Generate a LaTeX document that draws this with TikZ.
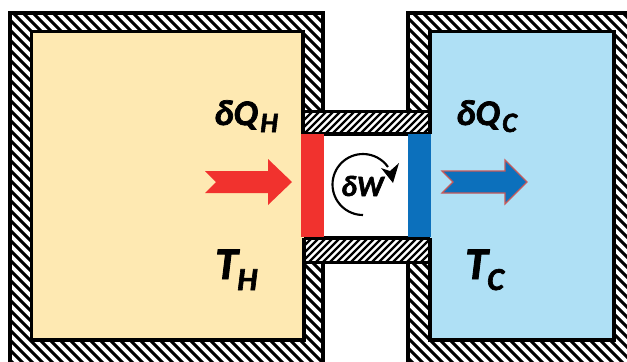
\documentclass[tikz,border=0pt]{standalone}
\usepackage{fontspec}
\setmainfont{Carlito}
\newfontface\heavy{Carlito Bold Italic}[FakeBold=2]
\definecolor{warm}{RGB}{254,233,178}
\definecolor{cool}{RGB}{175,224,245}
\definecolor{hotred}{RGB}{241,50,46}
\definecolor{coldblue}{RGB}{12,112,188}
\definecolor{rim}{RGB}{200,90,90}
\tikzset{x=0.75pt,y=-0.75pt,
  wallline/.style={line width=2.6pt,black},
  stripe/.style={line width=2.3pt,black},
  finestripe/.style={line width=1.7pt,black},
  label/.style={inner sep=0pt,anchor=base west}}
\newcommand{\hatchSE}{\foreach \k in {-400,-390,...,700}{\draw[stripe] (\k,0)--(\k+380,380);}}
\newcommand{\hatchNE}{\foreach \k in {200,207,...,800}{\draw[finestripe] (\k,0)--(\k-380,380);}}
\begin{document}
\begin{tikzpicture}
\useasboundingbox (0,0) rectangle (627,361);
\clip (0,0) rectangle (627,361);
\fill[white] (0,0) rectangle (627,361);
% left wall hatch
\begin{scope}
\clip (10,13) rectangle (323,380);
\hatchSE
\end{scope}
% right wall hatch
\begin{scope}
\clip (408,13) rectangle (640,380);
\hatchSE
\end{scope}
% chambers
\fill[warm] (31,31) rectangle (304,340);
\fill[cool] (430,31) rectangle (614,340);
\fill[white] (304,111) rectangle (430,263);
% channel hatch
\begin{scope}
\clip (304,112) rectangle (430,133);
\hatchNE
\end{scope}
\begin{scope}
\clip (304,239) rectangle (430,262);
\hatchNE
\end{scope}
% outlines
\draw[wallline] (10,380)--(10,13)--(323,13)--(323,112);
\draw[wallline] (323,262)--(323,380);
\draw[wallline] (408,112)--(408,13)--(640,13);
\draw[wallline] (408,262)--(408,380);
\draw[wallline] (303,134)--(303,31.5)--(31.5,31.5)--(31.5,340)--(304,340)--(304,238);
\draw[wallline] (430,134)--(430,31.5)--(614,31.5)--(614,340)--(430,340)--(430,238);
\draw[wallline] (304,111.5)--(430,111.5);
\draw[wallline] (304,134)--(430,134);
\draw[wallline] (304,238)--(430,238);
\draw[wallline] (304,262.5)--(430,262.5);
% pistons
\fill[hotred] (301,134) rectangle (324,237);
\fill[coldblue] (408,134) rectangle (431,237);
% heat arrows
\fill[hotred] (205,171)--(268,171)--(268,159)--(292,182)--(268,205)--(268,193)--(205,193)--(216,182)--cycle;
\filldraw[fill=coldblue,draw=rim,line width=0.9pt] (442,171)--(505,171)--(505,160)--(527,182)--(505,204)--(505,193)--(442,193)--(453,182)--cycle;
% work arc
\draw[line width=1.6pt] (363,215) arc[start angle=90,end angle=325,radius=30.5];
\fill (393,183)--(399,163)--(390,171)--(381,168)--cycle;
% labels
\node[label,font=\fontsize{27}{27}\selectfont\heavy] (qh) at (214,125) {δQ};
\node[label,font=\fontsize{21}{21}\selectfont\heavy] (qhs) at (260,132) {H};
\node[label,font=\fontsize{27}{27}\selectfont\heavy] (qc) at (456,125) {δQ};
\node[label,font=\fontsize{21}{21}\selectfont\heavy] (qcs) at (502,132) {C};
\node[label,font=\fontsize{22}{22}\selectfont\heavy] (w) at (341,196) {δW};
\node[label,font=\fontsize{34}{34}\selectfont\heavy] (th) at (215,279) {T};
\node[label,font=\fontsize{24}{24}\selectfont\heavy] (ths) at (237,290) {H};
\node[label,font=\fontsize{34}{34}\selectfont\heavy] (tc) at (465,279) {T};
\node[label,font=\fontsize{24}{24}\selectfont\heavy] (tcs) at (487,290) {C};
\end{tikzpicture}
\end{document}
